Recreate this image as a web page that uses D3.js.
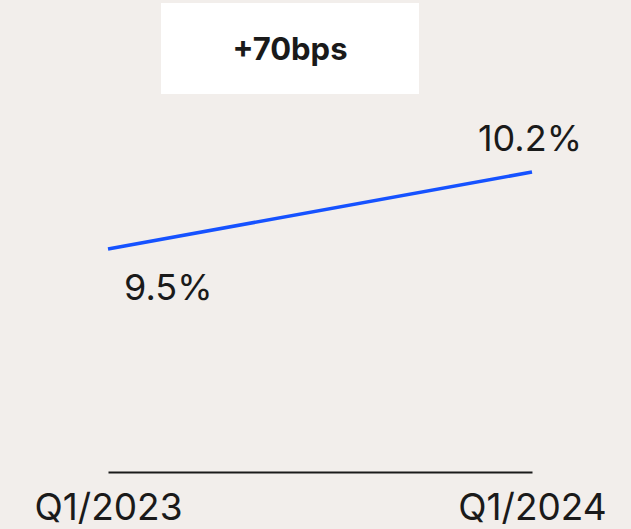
<!DOCTYPE html>
<html lang="en">
<head>
    <meta charset="UTF-8">
    <title>+70bps</title>
    <script src="https://cdnjs.cloudflare.com/ajax/libs/d3/7.8.5/d3.min.js"></script>
    <style>
        body { margin: 0; background: #f2eeeb; }
        svg { display: block; font-family: Inter, 'Noto Sans', sans-serif; }
    </style>
</head>
<body>
    <svg id="chart" width="631" height="529"></svg>
    <script>
        // data
        const periods = ["Q1/2023", "Q1/2024"];
        const values = [9.5, 10.2];
        const valueLabels = ["9.5%", "10.2%"];
        const badge = "+70bps";

        const svg = d3.select("#chart");

        const x = d3.scalePoint().domain(periods).range([108, 532]);
        const y = d3.scaleLinear().domain([9.5, 10.2]).range([249, 172]);

        // badge box
        svg.append("rect")
            .attr("x", 161).attr("y", 3)
            .attr("width", 258).attr("height", 91)
            .attr("fill", "#ffffff");
        svg.append("text")
            .attr("x", 290).attr("y", 60)
            .attr("text-anchor", "middle")
            .attr("font-size", 31)
            .attr("font-weight", 700)
            .attr("fill", "#1a1a1a")
            .text(badge);

        // line
        const line = d3.line()
            .x((d, i) => x(periods[i]))
            .y(d => y(d));
        svg.append("path")
            .datum(values)
            .attr("d", line)
            .attr("fill", "none")
            .attr("stroke", "#1652ff")
            .attr("stroke-width", 3.5);

        // value labels
        svg.append("text")
            .attr("x", x(periods[0]) + 16).attr("y", 300)
            .attr("font-size", 36)
            .attr("fill", "#1a1a1a")
            .text(valueLabels[0]);
        svg.append("text")
            .attr("x", x(periods[1]) + 50).attr("y", 151)
            .attr("text-anchor", "end")
            .attr("font-size", 36)
            .attr("fill", "#1a1a1a")
            .text(valueLabels[1]);

        // baseline axis
        const axis = svg.append("g").attr("transform", "translate(0,472)")
            .call(d3.axisBottom(x).tickSize(0).tickPadding(0));
        axis.select(".domain").attr("stroke", "#1a1a1a").attr("stroke-width", 2);
        axis.selectAll(".tick text")
            .attr("font-size", 37)
            .attr("font-family", "Inter, 'Noto Sans', sans-serif")
            .attr("fill", "#1a1a1a")
            .attr("dy", null)
            .attr("y", 48);
    </script>
</body>
</html>
